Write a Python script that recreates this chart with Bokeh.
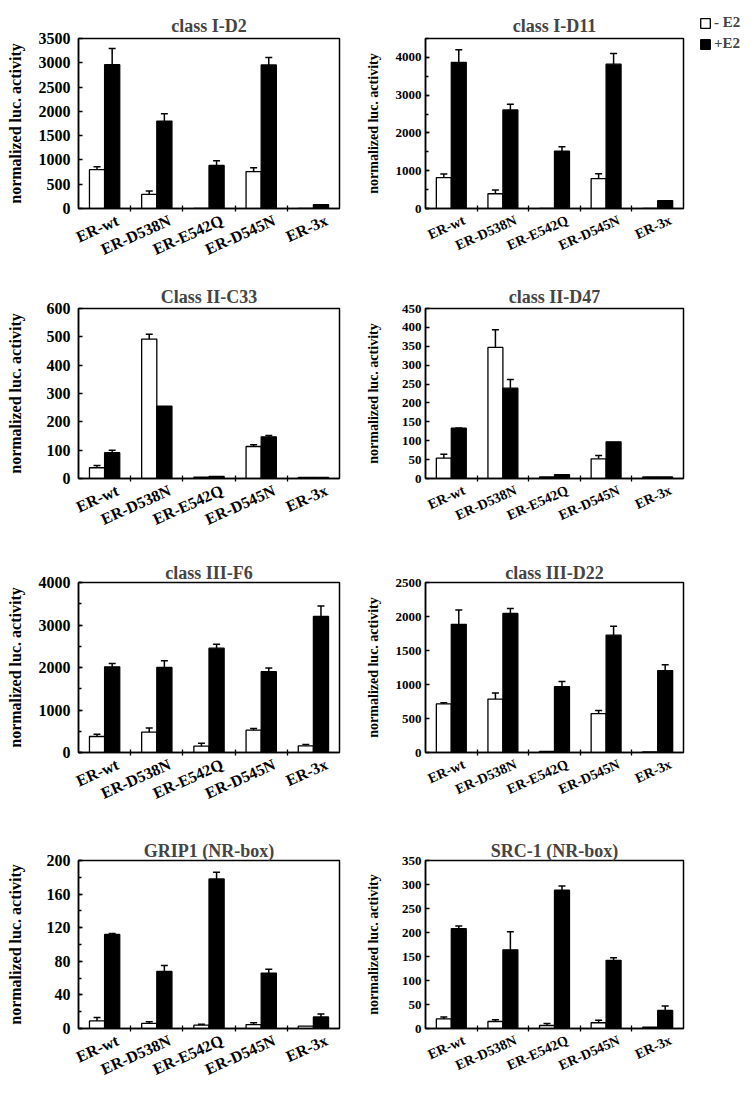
import numpy as np
from bokeh.plotting import figure
from bokeh.models import (Range1d, FixedTicker, ColumnDataSource, Whisker, TeeHead,
                          Legend, LegendItem)
from bokeh.layouts import column, row
from bokeh.embed import file_html
from bokeh.resources import INLINE

mutants = ["ER-wt", "ER-D538N", "ER-E542Q", "ER-D545N", "ER-3x"]
series_labels = ["- E2", "+E2"]

titles = ["class I-D2", "class I-D11", "Class II-C33", "class II-D47",
          "class III-F6", "class III-D22", "GRIP1 (NR-box)", "SRC-1 (NR-box)"]
y_label = "normalized luc. activity"

# class I-D2
d2_minus = [800, 290, 0, 760, 0]
d2_minus_err = [60, 70, 0, 80, 0]
d2_plus = [2960, 1800, 885, 2955, 80]
d2_plus_err = [335, 150, 100, 155, 0]
# class I-D11
d11_minus = [815, 390, 0, 790, 0]
d11_minus_err = [100, 100, 0, 130, 0]
d11_plus = [3870, 2610, 1520, 3820, 210]
d11_plus_err = [335, 150, 115, 285, 0]
# Class II-C33
c33_minus = [38, 492, 5, 113, 4]
c33_minus_err = [8, 17, 0, 6, 0]
c33_plus = [91, 255, 7, 147, 4]
c33_plus_err = [9, 0, 0, 5, 0]
# class II-D47
d47_minus = [54, 347, 4, 52, 4]
d47_minus_err = [10, 47, 0, 9, 0]
d47_plus = [133, 239, 10, 97, 4]
d47_plus_err = [1, 23, 0, 0, 0]
# class III-F6
f6_minus = [376, 478, 150, 525, 157]
f6_minus_err = [55, 100, 70, 40, 30]
f6_plus = [2015, 2000, 2455, 1900, 3200]
f6_plus_err = [78, 157, 94, 86, 250]
# class III-D22
d22_minus = [715, 785, 15, 572, 10]
d22_minus_err = [15, 89, 0, 44, 0]
d22_plus = [1885, 2045, 970, 1725, 1205]
d22_plus_err = [210, 74, 74, 133, 84]
# GRIP1 (NR-box)
grip_minus = [9, 6, 4, 4.7, 2.8]
grip_minus_err = [4, 2, 1, 2, 0]
grip_plus = [112, 68, 178, 66, 13.8]
grip_plus_err = [1, 7, 8, 4.5, 3.6]
# SRC-1 (NR-box)
src_minus = [20, 14.6, 6.3, 12, 2.8]
src_minus_err = [4, 3.5, 4, 5, 0]
src_plus = [208, 164, 288, 142, 37.7]
src_plus_err = [5.5, 37.5, 9, 5.6, 9]

# y axis: max, major step, minor step
y_max = [3500, 4500, 600, 450, 4000, 2500, 200, 350]
y_step = [500, 1000, 100, 50, 1000, 500, 40, 50]
y_minor = [None, 500, None, None, 500, None, 20, None]

panels = [
    (d2_minus, d2_minus_err, d2_plus, d2_plus_err),
    (d11_minus, d11_minus_err, d11_plus, d11_plus_err),
    (c33_minus, c33_minus_err, c33_plus, c33_plus_err),
    (d47_minus, d47_minus_err, d47_plus, d47_plus_err),
    (f6_minus, f6_minus_err, f6_plus, f6_plus_err),
    (d22_minus, d22_minus_err, d22_plus, d22_plus_err),
    (grip_minus, grip_minus_err, grip_plus, grip_plus_err),
    (src_minus, src_minus_err, src_plus, src_plus_err),
]

FONT = "Liberation Serif"
row_heights = [270, 270, 290, 258]
row_top = [38, 38, 42, 30]
row_frame = [170, 170, 170, 168]
row_title_standoff = [5, 3, 0, 0]
col_width = [362, 383]
col_left = [78, 61]
col_frame = [261, 260]
legend_fig_width = 60


def make_panel(i):
    r, c = divmod(i, 2)
    minus, minus_err, plus, plus_err = panels[i]
    W, H = col_width[c], row_heights[r]
    if i == 1:
        W = W - legend_fig_width
    right_border = W - col_left[c] - col_frame[c]
    p = figure(width=W, height=H, output_backend="svg", toolbar_location=None,
               x_range=Range1d(0.5, 5.5), y_range=Range1d(0, y_max[i]),
               min_border_left=col_left[c], min_border_right=right_border,
               min_border_top=row_top[r], min_border_bottom=H - row_top[r] - row_frame[r])
    p.background_fill_color = "white"
    p.border_fill_color = "white"
    p.outline_line_color = "black"
    p.outline_line_width = 1.5
    p.xgrid.grid_line_color = None
    p.ygrid.grid_line_color = None

    p.title.text = titles[i]
    p.title.text_font = FONT
    p.title.text_font_style = "bold"
    p.title.text_font_size = "18px"
    p.title.align = "center"
    p.title.standoff = row_title_standoff[r]

    xs = list(range(1, 6))
    xw = [x - 0.145 for x in xs]
    xb = [x + 0.145 for x in xs]
    p.vbar(x=xw, top=minus, width=0.29, bottom=0, fill_color="white",
           line_color="black", line_width=1.3)
    p.vbar(x=xb, top=plus, width=0.29, bottom=0, fill_color="black",
           line_color="black", line_width=1.3)

    for xx, vals, errs in ((xw, minus, minus_err), (xb, plus, plus_err)):
        keep = [k for k in range(5) if errs[k] > 0]
        src = ColumnDataSource(dict(
            base=[xx[k] for k in keep],
            lower=[vals[k] for k in keep],
            upper=[vals[k] + errs[k] for k in keep]))
        w = Whisker(source=src, base="base", lower="lower", upper="upper",
                    dimension="height", line_color="black", line_width=1.5,
                    lower_head=None,
                    upper_head=TeeHead(size=7, line_width=1.5, line_color="black"))
        p.add_layout(w)

    # x axis: labels end slightly right of each category centre
    xa = p.xaxis[0]
    label_pos = [x + 0.25 for x in xs]
    xa.ticker = FixedTicker(ticks=label_pos, minor_ticks=[1.5, 2.5, 3.5, 4.5])
    xa.major_label_overrides = {lp: m for lp, m in zip(label_pos, mutants)}
    xa.major_tick_line_color = None
    xa.minor_tick_line_color = "black"
    xa.minor_tick_line_width = 1.3
    xa.minor_tick_in = 3
    xa.minor_tick_out = 3
    xa.axis_line_width = 1.5
    xa.major_label_orientation = 0.42
    xa.major_label_standoff = 5
    xa.major_label_text_font = FONT
    xa.major_label_text_font_style = "bold"
    xa.major_label_text_font_size = "16px" if c == 0 else "14px"
    xa.major_label_text_color = "black"

    # y axis
    ya = p.yaxis[0]
    ticks = list(range(0, y_max[i] + 1, y_step[i]))
    minors = list(range(0, y_max[i] + 1, y_minor[i])) if y_minor[i] else []
    ya.ticker = FixedTicker(ticks=ticks, minor_ticks=minors)
    ya.major_tick_in = 4
    ya.major_tick_out = 0
    ya.minor_tick_in = 3
    ya.minor_tick_out = 0
    ya.major_tick_line_width = 1.3
    ya.minor_tick_line_width = 1.3
    ya.axis_line_width = 1.5
    ya.major_label_text_font = FONT
    ya.major_label_text_font_style = "bold"
    ya.major_label_text_color = "black"
    nd = len(str(max(ticks)))
    if c == 0:
        ya.major_label_text_font_size = "16px"
        ya.major_label_standoff = 8
        ya.axis_label_standoff = int(12 + (4 - nd) * 8)
        ya.axis_label_text_font_size = "16px"
    else:
        ya.major_label_text_font_size = "13px"
        ya.major_label_standoff = 4
        ya.axis_label_standoff = int(12 + (4 - nd) * 6.5)
        ya.axis_label_text_font_size = "14px"
    ya.axis_label = y_label
    ya.axis_label_text_font = FONT
    ya.axis_label_text_font_style = "bold"
    ya.axis_label_text_color = "black"
    return p


def make_legend_fig():
    q = figure(width=legend_fig_width, height=row_heights[0], output_backend="svg",
               toolbar_location=None, x_axis_location=None, y_axis_location=None,
               min_border=0, min_border_top=0, min_border_bottom=0,
               min_border_left=0, min_border_right=0, title=None)
    q.outline_line_color = None
    q.xgrid.grid_line_color = None
    q.ygrid.grid_line_color = None
    q.background_fill_color = "white"
    q.border_fill_color = "white"
    # legend proxies (no visible marks)
    proxy = ColumnDataSource(dict(x=[np.nan], top=[np.nan]))
    rw = q.vbar(x="x", top="top", width=0.29, source=proxy, fill_color="white",
                line_color="black", line_width=1.3)
    rb = q.vbar(x="x", top="top", width=0.29, source=proxy, fill_color="black",
                line_color="black", line_width=1.3)
    legend = Legend(items=[LegendItem(label=series_labels[0], renderers=[rw]),
                           LegendItem(label=series_labels[1], renderers=[rb])],
                    location="top_left", padding=0, margin=14, spacing=4,
                    glyph_width=12, glyph_height=12, label_standoff=3,
                    label_text_font=FONT, label_text_font_style="bold",
                    label_text_font_size="15px", border_line_color=None,
                    background_fill_alpha=0)
    q.add_layout(legend)
    return q


figs = [make_panel(i) for i in range(8)]
rows = [row(figs[0], figs[1], column(make_legend_fig()))]
rows += [row(figs[2 * r], figs[2 * r + 1]) for r in range(1, 4)]
layout = column(*rows)
open("out.html", "w").write(file_html(layout, INLINE))
